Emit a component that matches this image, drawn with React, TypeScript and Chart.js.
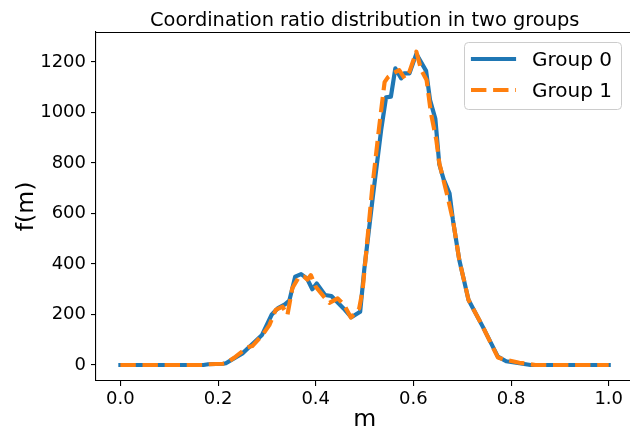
import React, { useEffect, useRef } from "react";
import { Chart, registerables } from "chart.js";

Chart.register(...registerables);

const FONT = "'DejaVu Sans', 'Liberation Sans', sans-serif";
const BLUE = "#1f77b4";
const ORANGE = "#ff7f0e";

const titleText = "Coordination ratio distribution in two groups";
const xLabel = "m";
const yLabel = "f(m)";
const groupNames = ["Group 0", "Group 1"];
const xTicks = [0, 0.2, 0.4, 0.6, 0.8, 1.0];
const yTicks = [0, 200, 400, 600, 800, 1000, 1200];

// Group 0: m positions and density values
const m0 = [
  0, 0.17, 0.18, 0.21, 0.216, 0.236, 0.25, 0.266, 0.29, 0.31, 0.322, 0.337,
  0.346, 0.358, 0.37, 0.382, 0.393, 0.402, 0.419, 0.432, 0.457, 0.473, 0.491,
  0.4995, 0.517, 0.534, 0.544, 0.554, 0.563, 0.575, 0.581, 0.592, 0.606, 0.626,
  0.634, 0.645, 0.653, 0.662, 0.674, 0.681, 0.694, 0.713, 0.742, 0.773, 0.79,
  0.817, 0.84, 1.0,
];
const f0 = [
  0, 0, 3, 5, 7, 30, 46, 75, 119, 200, 224, 240, 255, 350, 360, 343, 300, 323,
  277, 273, 224, 189, 211, 380, 667, 931, 1060, 1063, 1175, 1135, 1155, 1155,
  1232, 1165, 1050, 975, 795, 735, 680, 574, 416, 257, 152, 33, 15, 7, 0, 0,
];

// Group 1: m positions and density values
const m1 = [
  0, 0.17, 0.18, 0.21, 0.216, 0.236, 0.26, 0.27, 0.291, 0.305, 0.318, 0.332,
  0.342, 0.352, 0.366, 0.376, 0.383, 0.39, 0.4, 0.417, 0.428, 0.445, 0.458,
  0.472, 0.489, 0.496, 0.516, 0.53, 0.541, 0.548, 0.558, 0.571, 0.582, 0.592,
  0.606, 0.616, 0.627, 0.636, 0.647, 0.653, 0.67, 0.681, 0.694, 0.713, 0.742,
  0.773, 0.79, 0.817, 0.85, 1.0,
];
const f1 = [
  0, 0, 3, 5, 7, 33, 70, 75, 119, 158, 218, 231, 198, 304, 350, 350, 338, 356,
  310, 270, 246, 264, 238, 188, 224, 297, 706, 944, 1120, 1140, 1155, 1168,
  1135, 1162, 1241, 1168, 1129, 997, 891, 800, 667, 574, 416, 257, 152, 30, 20,
  9, 0, 0,
];

const toPoints = (xs: number[], ys: number[]) =>
  xs.map((x, i) => ({ x, y: ys[i] }));

// Frame, titles and legend drawn on top of the plot
const decorations = {
  id: "decorations",
  afterDraw(chart: Chart) {
    const { ctx, chartArea } = chart;
    const { left, top, bottom } = chartArea;
    const axesRight = 633.4;
    const cx = (left + axesRight) / 2;
    ctx.save();

    // top spine
    ctx.strokeStyle = "#000";
    ctx.lineWidth = 1.1;
    ctx.beginPath();
    ctx.moveTo(left, top + 0.5);
    ctx.lineTo(chart.width, top + 0.5);
    ctx.stroke();

    ctx.fillStyle = "#000";
    ctx.textAlign = "center";
    ctx.textBaseline = "alphabetic";

    ctx.font = `19.4px ${FONT}`;
    ctx.fillText(titleText, cx, 26);

    ctx.font = `23.6px ${FONT}`;
    ctx.fillText(xLabel, cx, 426);

    ctx.save();
    ctx.translate(33, (top + bottom) / 2);
    ctx.rotate(-Math.PI / 2);
    ctx.fillText(yLabel, 0, 0);
    ctx.restore();

    // legend
    const bx = 464.5;
    const by = 42.5;
    const bw = 157;
    const bh = 67;
    ctx.beginPath();
    ctx.roundRect(bx, by, bw, bh, 4);
    ctx.fillStyle = "rgba(255,255,255,0.8)";
    ctx.fill();
    ctx.strokeStyle = "#cccccc";
    ctx.lineWidth = 1;
    ctx.stroke();

    const rows = [
      { y: 59, color: BLUE, dash: [] as number[], cap: "square" as CanvasLineCap },
      { y: 90, color: ORANGE, dash: [15.4, 6.7], cap: "butt" as CanvasLineCap },
    ];
    rows.forEach((r, i) => {
      ctx.beginPath();
      ctx.strokeStyle = r.color;
      ctx.lineWidth = 4.17;
      ctx.lineCap = r.cap;
      ctx.setLineDash(r.dash);
      const x0 = r.cap === "square" ? 473 : 471;
      const x1 = r.cap === "square" ? 514 : 516;
      ctx.moveTo(x0, r.y);
      ctx.lineTo(x1, r.y);
      ctx.stroke();
      ctx.setLineDash([]);
      ctx.fillStyle = "#000";
      ctx.font = `20px ${FONT}`;
      ctx.textAlign = "left";
      ctx.fillText(groupNames[i], 532, r.y + 7.3);
    });

    ctx.restore();
  },
};

export default function App() {
  const canvasRef = useRef<HTMLCanvasElement | null>(null);

  useEffect(() => {
    if (!canvasRef.current) return;
    const tickFont = { family: FONT, size: 18 };
    const chart = new Chart(canvasRef.current, {
      type: "line",
      data: {
        datasets: [
          {
            label: groupNames[0],
            data: toPoints(m0, f0),
            borderColor: BLUE,
            borderWidth: 4.17,
            borderCapStyle: "square",
            borderJoinStyle: "round",
            pointRadius: 0,
            tension: 0,
            fill: false,
            order: 1,
          },
          {
            label: groupNames[1],
            data: toPoints(m1, f1),
            borderColor: ORANGE,
            borderWidth: 4.17,
            borderDash: [15.4, 6.7],
            borderCapStyle: "butt",
            borderJoinStyle: "round",
            pointRadius: 0,
            tension: 0,
            fill: false,
            order: 0,
          },
        ],
      },
      options: {
        responsive: false,
        animation: false,
        devicePixelRatio: 1,
        layout: { padding: { top: 32, left: 0, right: 0, bottom: 0 } },
        plugins: {
          legend: { display: false },
          title: { display: false },
          tooltip: { enabled: false },
        },
        scales: {
          x: {
            type: "linear",
            min: -0.05,
            max: 1.0436,
            afterBuildTicks: (s: any) => {
              s.ticks = xTicks.map((v) => ({ value: v }));
            },
            afterFit: (s: any) => {
              s.height = 48;
            },
            grid: {
              display: true,
              drawOnChartArea: false,
              drawTicks: true,
              tickLength: 5,
              color: "#000",
              lineWidth: 1.1,
            },
            border: { display: true, color: "#000", width: 1.1 },
            ticks: {
              padding: 3,
              color: "#000",
              font: tickFont,
              maxRotation: 0,
              autoSkip: false,
              callback: (v: any) => Number(v).toFixed(1),
            },
          },
          y: {
            type: "linear",
            min: -63.4,
            max: 1318.8,
            afterBuildTicks: (s: any) => {
              s.ticks = yTicks.map((v) => ({ value: v }));
            },
            afterFit: (s: any) => {
              s.width = 96;
            },
            grid: {
              display: true,
              drawOnChartArea: false,
              drawTicks: true,
              tickLength: 5,
              color: "#000",
              lineWidth: 1.1,
            },
            border: { display: true, color: "#000", width: 1.1 },
            ticks: {
              padding: 5,
              color: "#000",
              font: tickFont,
              autoSkip: false,
              callback: (v: any) => String(v),
            },
          },
        },
      },
      plugins: [decorations],
    });
    return () => chart.destroy();
  }, []);

  return (
    <div
      style={{
        position: "fixed",
        left: 0,
        top: 0,
        width: 630,
        height: 429,
        background: "#fff",
      }}
    >
      <canvas
        ref={canvasRef}
        width={630}
        height={429}
        style={{ display: "block", width: 630, height: 429 }}
      />
    </div>
  );
}
